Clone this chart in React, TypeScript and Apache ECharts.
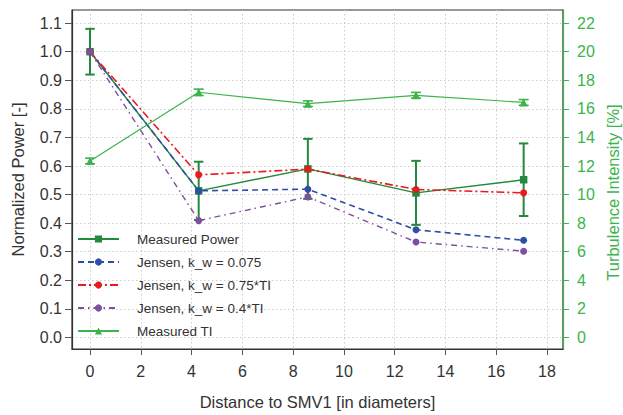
import React, { useEffect, useRef } from "react";
import * as echarts from "echarts";

// Downstream distance of each turbine position, in rotor diameters
const distances = [0, 4.28, 8.58, 12.84, 17.08];

// Normalized power: measurement (with uncertainty) and Jensen wake model variants
const measuredPower = [1.0, 0.513, 0.59, 0.506, 0.552];
const measuredPowerErr = [0.08, 0.102, 0.105, 0.112, 0.127];
const jensenFixed = [1.0, 0.513, 0.519, 0.377, 0.34];
const jensen075TI = [1.0, 0.569, 0.589, 0.518, 0.506];
const jensen04TI = [1.0, 0.409, 0.492, 0.334, 0.302];

// Measured turbulence intensity [%] with uncertainty
const measuredTI = [12.35, 17.16, 16.36, 16.95, 16.45];
const measuredTIErr = [0.2, 0.22, 0.2, 0.2, 0.2];

// Tick positions
const xTicks = [0, 2, 4, 6, 8, 10, 12, 14, 16, 18];
const powerTicks = [0, 0.1, 0.2, 0.3, 0.4, 0.5, 0.6, 0.7, 0.8, 0.9, 1.0, 1.1];
const tiTicks = [0, 2, 4, 6, 8, 10, 12, 14, 16, 18, 20, 22];

const FONT = '"Liberation Sans", Arial, sans-serif';
const TEXT = "#333333";
const POWER_GREEN = "#23893c";
const TI_GREEN = "#3cb44b";
const BLUE = "#2f4fa6";
const RED = "#e8191f";
const PURPLE = "#7f4f9f";

function errorBarSeries(
  name: string,
  values: number[],
  errs: number[],
  yAxisIndex: number,
  color: string,
  halfCap: number,
  lineWidth: number
) {
  return {
    name,
    type: "custom",
    yAxisIndex,
    data: distances.map((x, i) => [x, values[i] - errs[i], values[i] + errs[i]]),
    encode: { x: 0, y: [1, 2] },
    renderItem: (_params: any, api: any) => {
      const x = api.value(0);
      const top = api.coord([x, api.value(2)]);
      const bot = api.coord([x, api.value(1)]);
      const style = { stroke: color, lineWidth };
      return {
        type: "group",
        children: [
          { type: "line", shape: { x1: top[0], y1: top[1], x2: bot[0], y2: bot[1] }, style },
          { type: "line", shape: { x1: top[0] - halfCap, y1: top[1], x2: top[0] + halfCap, y2: top[1] }, style },
          { type: "line", shape: { x1: bot[0] - halfCap, y1: bot[1], x2: bot[0] + halfCap, y2: bot[1] }, style },
        ],
      };
    },
    z: 2,
  };
}

function lineSeries(
  name: string,
  values: number[],
  color: string,
  symbol: string,
  symbolSize: number,
  dash: any,
  width: number,
  yAxisIndex = 0
) {
  return {
    name,
    type: "line",
    yAxisIndex,
    data: distances.map((x, i) => [x, values[i]]),
    symbol,
    symbolSize,
    showSymbol: true,
    itemStyle: { color },
    lineStyle: { color, width, type: dash },
    z: 3,
  };
}

export default function App() {
  const ref = useRef<HTMLDivElement>(null);

  useEffect(() => {
    if (!ref.current) return;
    const chart = echarts.init(ref.current, undefined, { renderer: "svg" });

    chart.setOption({
      animation: false,
      textStyle: { fontFamily: FONT },
      grid: {
        left: 72,
        right: 60,
        top: 10,
        bottom: 61,
        show: true,
        borderColor: "#333333",
        borderWidth: 1.2,
        backgroundColor: "transparent",
      },
      legend: {
        orient: "vertical",
        left: 77,
        top: 232,
        padding: 0,
        itemWidth: 41,
        itemHeight: 9,
        itemGap: 9,
        data: [
          "Measured Power",
          "Jensen, k_w = 0.075",
          "Jensen, k_w = 0.75*TI",
          "Jensen, k_w = 0.4*TI",
          "Measured TI",
        ],
        textStyle: { fontSize: 13.5, color: TEXT, fontFamily: FONT, padding: [0, 0, 0, 13] },
      },
      xAxis: {
        type: "value",
        min: -0.71,
        max: 18.63,
        name: "Distance to SMV1 [in diameters]",
        nameLocation: "middle",
        nameGap: 44,
        nameTextStyle: { fontSize: 16.5, color: TEXT },
        axisLine: { show: true, onZero: false, lineStyle: { color: "#333333", width: 1.2 } },
        axisTick: { show: true, length: 6, lineStyle: { color: "#555555" }, customValues: xTicks },
        axisLabel: { fontSize: 16, color: TEXT, margin: 14, customValues: xTicks },
        splitLine: { show: true, lineStyle: { color: "#cccccc", type: [1.5, 2.5], width: 1 } },
      },
      yAxis: [
        {
          type: "value",
          min: -0.0403,
          max: 1.1459,
          name: "Normalized Power [-]",
          nameLocation: "middle",
          nameGap: 46,
          nameTextStyle: { fontSize: 16.5, color: TEXT },
          axisLine: { show: true, onZero: false, lineStyle: { color: "#333333", width: 1.2 } },
          axisTick: { show: true, length: 7, lineStyle: { color: "#555555" }, customValues: powerTicks },
          axisLabel: {
            fontSize: 16,
            color: TEXT,
            margin: 10,
            customValues: powerTicks,
            formatter: (v: number) => v.toFixed(1),
          },
          splitLine: { show: true, lineStyle: { color: "#cccccc", type: [1.5, 2.5], width: 1 } },
        },
        {
          type: "value",
          position: "right",
          min: -0.806,
          max: 22.918,
          axisLine: { show: true, onZero: false, lineStyle: { color: TI_GREEN, width: 1.2 } },
          axisTick: { show: true, length: 6, lineStyle: { color: TI_GREEN }, customValues: tiTicks },
          axisLabel: { fontSize: 16, color: TI_GREEN, margin: 14, customValues: tiTicks },
          splitLine: { show: false },
        },
      ],
      graphic: [
        {
          type: "text",
          x: 613,
          y: 192.5,
          rotation: Math.PI / 2,
          style: {
            text: "Turbulence Intensity [%]",
            fill: TI_GREEN,
            fontSize: 16.5,
            fontFamily: FONT,
            align: "center",
            verticalAlign: "middle",
          },
        },
      ],
      series: [
        errorBarSeries("Power uncertainty", measuredPower, measuredPowerErr, 0, POWER_GREEN, 4.7, 2),
        lineSeries("Measured Power", measuredPower, POWER_GREEN, "rect", 7.5, "solid", 1.5),
        lineSeries("Jensen, k_w = 0.075", jensenFixed, BLUE, "circle", 7, [6, 4], 1.6),
        lineSeries("Jensen, k_w = 0.75*TI", jensen075TI, RED, "circle", 7, [8, 3, 2, 3], 1.6),
        lineSeries("Jensen, k_w = 0.4*TI", jensen04TI, PURPLE, "circle", 7, [6, 4, 1.5, 4], 1.4),
        errorBarSeries("TI uncertainty", measuredTI, measuredTIErr, 1, TI_GREEN, 5, 1.6),
        lineSeries("Measured TI", measuredTI, TI_GREEN, "triangle", 8, "solid", 1.2, 1),
      ],
    });

    return () => chart.dispose();
  }, []);

  return (
    <div
      ref={ref}
      style={{ position: "fixed", left: 0, top: 0, width: 623, height: 415, background: "#ffffff" }}
    />
  );
}
